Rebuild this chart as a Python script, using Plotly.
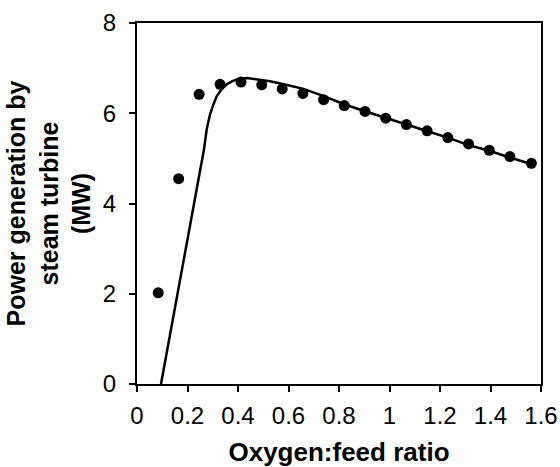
import plotly.graph_objects as go

# Measured data points (markers)
ratio_pts = [0.084, 0.165, 0.246, 0.329, 0.412, 0.494, 0.575, 0.657, 0.739, 0.821,
             0.903, 0.985, 1.067, 1.149, 1.231, 1.313, 1.395, 1.477, 1.562]
power_pts = [2.02, 4.55, 6.42, 6.64, 6.69, 6.63, 6.54, 6.44, 6.30, 6.17,
             6.04, 5.89, 5.75, 5.61, 5.46, 5.32, 5.18, 5.04, 4.89]

# Model curve
ratio_line = [0.095, 0.265, 0.276, 0.289, 0.303, 0.316, 0.335, 0.355, 0.378, 0.401,
              0.434, 0.48, 0.527, 0.59, 0.659, 0.74, 0.82, 0.90, 0.985, 1.067,
              1.15, 1.231, 1.31, 1.395, 1.47, 1.57]
power_line = [0.0, 5.19, 5.64, 5.97, 6.2, 6.38, 6.53, 6.64, 6.71, 6.76,
              6.78, 6.75, 6.71, 6.63, 6.54, 6.38, 6.2, 6.05, 5.89, 5.75,
              5.6, 5.46, 5.3, 5.17, 5.03, 4.86]

x_ticks = [0, 0.2, 0.4, 0.6, 0.8, 1.0, 1.2, 1.4, 1.6]
x_ticktext = ["0", "0.2", "0.4", "0.6", "0.8", "1", "1.2", "1.4", "1.6"]
y_ticks = [0, 2, 4, 6, 8]

fig = go.Figure()
fig.add_trace(go.Scatter(x=ratio_line, y=power_line, mode="lines",
                         line=dict(color="black", width=2.5), showlegend=False))
fig.add_trace(go.Scatter(x=ratio_pts, y=power_pts, mode="markers",
                         marker=dict(color="black", size=11), showlegend=False))

font_family = "Liberation Sans, Arial, sans-serif"
fig.update_layout(
    width=560, height=467,
    margin=dict(l=137, r=19, t=23, b=83),
    paper_bgcolor="white", plot_bgcolor="white",
    font=dict(family=font_family, color="black", size=24),
    xaxis=dict(range=[0, 1.6], tickvals=x_ticks, ticktext=x_ticktext,
               ticks="outside", ticklen=6, tickwidth=1.5, tickcolor="black",
               showline=True, linecolor="black", linewidth=2, mirror=True,
               showgrid=False, zeroline=False, ticklabelstandoff=3,
               automargin=False,
               tickfont=dict(size=24),
               title=dict(text="<b>Oxygen:feed ratio</b>", font=dict(size=26), standoff=22)),
    yaxis=dict(range=[0, 8], tickvals=y_ticks,
               ticks="outside", ticklen=6, tickwidth=1.5, tickcolor="black",
               showline=True, linecolor="black", linewidth=2, mirror=True,
               showgrid=False, zeroline=False, ticklabelstandoff=8,
               automargin=False,
               tickfont=dict(size=24),
               title=dict(text="<b>Power generation by<br>steam turbine<br>(MW)</b>",
                          font=dict(size=25), standoff=5)),
)

fig.write_html("out.html")
